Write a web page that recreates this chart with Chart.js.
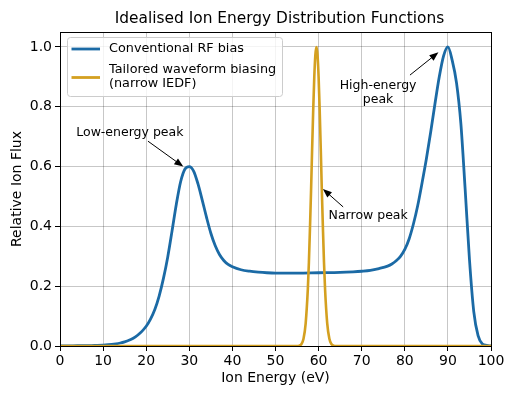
<!DOCTYPE html>
<html>
<head>
<meta charset="utf-8">
<script src="https://cdn.jsdelivr.net/npm/chart.js@4.4.1/dist/chart.umd.min.js"></script>
<style>
  html, body { margin: 0; padding: 0; background: #fff; }
  #wrap { width: 512px; height: 394px; }
</style>
</head>
<body>
<div id="wrap"><canvas id="c" width="512" height="394"></canvas></div>
<script>
// ============ DATA ============
const titleText = 'Idealised Ion Energy Distribution Functions';

// conventional RF bias: bimodal IEDF
const rfEnergy = [0, 2, 4, 6, 8, 10, 12, 13, 14, 15, 16, 17, 18, 19, 20, 21, 22, 23, 24, 25, 26, 27, 28, 29, 30,
  31, 32, 33, 34, 35, 36, 37, 38, 39, 40, 42, 44, 46, 48, 50, 55, 60, 65, 68, 70, 72, 74, 76, 77, 78, 79, 80,
  81, 82, 83, 84, 85, 86, 87, 88, 89, 90, 91, 92, 93, 94, 95, 96, 97, 98, 99, 100];
const rfFlux = [0.000, 0.000, 0.001, 0.001, 0.002, 0.003, 0.005, 0.007, 0.010, 0.014, 0.019, 0.026, 0.036, 0.049, 0.066,
  0.090, 0.122, 0.167, 0.226, 0.298, 0.385, 0.475, 0.550, 0.592, 0.600,
  0.585, 0.543, 0.488, 0.430, 0.377, 0.336, 0.306, 0.286, 0.273, 0.265, 0.255, 0.250, 0.247, 0.245, 0.244,
  0.244, 0.245, 0.246, 0.248, 0.250, 0.253, 0.259, 0.267, 0.274, 0.285, 0.300, 0.323,
  0.358, 0.408, 0.470, 0.545, 0.625, 0.715, 0.810, 0.900, 0.970, 1.000, 0.955, 0.880, 0.745, 0.525, 0.290,
  0.115, 0.035, 0.007, 0.002, 0.000];

// tailored waveform: single narrow peak near 60 eV
const twEnergy = [0, 55, 55.5, 56, 56.5, 57, 57.5, 57.75, 58, 58.25, 58.5, 58.75, 59, 59.25, 59.5, 59.75,
  60, 60.25, 60.5, 60.75, 61, 61.25, 61.5, 62, 62.5, 63, 63.5, 64, 100];
const twFlux = [0, 0, 0.001, 0.006, 0.024, 0.076, 0.190, 0.280, 0.395, 0.520, 0.660, 0.790, 0.900, 0.974, 1.000, 0.974,
  0.900, 0.790, 0.660, 0.520, 0.395, 0.280, 0.190, 0.076, 0.024, 0.006, 0.001, 0, 0];

const energyTicks = [0, 10, 20, 30, 40, 50, 60, 70, 80, 90, 100];
const fluxTicks = [0, 0.2, 0.4, 0.6, 0.8, 1.0];

// callouts: text centre, arrow tail, arrow head (data units)
const notes = [
  { text: ['Low-energy peak'], at: [16.2, 0.712], from: [20.4, 0.685], to: [28.6, 0.600] },
  { text: ['High-energy', 'peak'], at: [73.8, 0.846], from: [81.2, 0.906], to: [87.8, 0.982] },
  { text: ['Narrow peak'], at: [71.5, 0.435], from: [65.7, 0.465], to: [61.0, 0.525] },
];

// ============ STYLE ============
const FONT = 'DejaVu Sans';
const BLUE = '#1b6aa5';
const GOLD = '#d4a020';

const pts = (xs, ys) => xs.map((x, i) => ({ x, y: ys[i] }));

// ============ PLUGINS ============
const frame = {
  id: 'frame',
  afterDatasetsDraw(chart) {
    const { ctx, chartArea: a } = chart;
    ctx.save();
    ctx.strokeStyle = '#000';
    ctx.lineWidth = 1;
    ctx.strokeRect(Math.round(a.left) + 0.5, Math.round(a.top) + 0.5, Math.round(a.right - a.left), Math.round(a.bottom - a.top));
    ctx.restore();
  }
};

const callouts = {
  id: 'callouts',
  afterDatasetsDraw(chart) {
    const { ctx, scales: { x, y } } = chart;
    ctx.save();
    ctx.font = `12.5px "${FONT}"`;
    ctx.fillStyle = '#000';
    ctx.strokeStyle = '#000';
    ctx.textAlign = 'center';
    ctx.textBaseline = 'middle';
    notes.forEach(n => {
      const tx = x.getPixelForValue(n.at[0]), ty = y.getPixelForValue(n.at[1]);
      const lh = 14;
      n.text.forEach((t, i) => ctx.fillText(t, tx, ty + (i - (n.text.length - 1) / 2) * lh));
      const x0 = x.getPixelForValue(n.from[0]), y0 = y.getPixelForValue(n.from[1]);
      const x1 = x.getPixelForValue(n.to[0]), y1 = y.getPixelForValue(n.to[1]);
      const ang = Math.atan2(y1 - y0, x1 - x0);
      const hl = 9, hw = 3.5;
      ctx.lineWidth = 1;
      ctx.beginPath();
      ctx.moveTo(x0, y0);
      ctx.lineTo(x1 - Math.cos(ang) * hl * 0.8, y1 - Math.sin(ang) * hl * 0.8);
      ctx.stroke();
      ctx.beginPath();
      ctx.moveTo(x1, y1);
      ctx.lineTo(x1 - Math.cos(ang) * hl - Math.sin(ang) * hw, y1 - Math.sin(ang) * hl + Math.cos(ang) * hw);
      ctx.lineTo(x1 - Math.cos(ang) * hl + Math.sin(ang) * hw, y1 - Math.sin(ang) * hl - Math.cos(ang) * hw);
      ctx.closePath();
      ctx.fill();
    });
    ctx.restore();
  }
};

const legendBox = {
  id: 'legendBox',
  afterDraw(chart) {
    const { ctx, chartArea: a } = chart;
    const bx = a.left + 7.5, by = a.top + 5.5, bw = 215, bh = 59, r = 3;
    ctx.save();
    ctx.beginPath();
    ctx.roundRect(bx, by, bw, bh, r);
    ctx.fillStyle = 'rgba(255,255,255,0.8)';
    ctx.fill();
    ctx.strokeStyle = '#cccccc';
    ctx.lineWidth = 1;
    ctx.stroke();
    ctx.font = `12.8px "${FONT}"`;
    ctx.fillStyle = '#000';
    ctx.textAlign = 'left';
    ctx.textBaseline = 'middle';
    const rows = [a.top + 17, a.top + 44.5];
    chart.data.datasets.forEach((ds, i) => {
      const lines = ds.label.split('\n');
      const cy = rows[i];
      ctx.strokeStyle = ds.borderColor;
      ctx.lineWidth = 2.8;
      ctx.beginPath();
      ctx.moveTo(bx + 4, cy + (lines.length > 1 ? 1 : 0));
      ctx.lineTo(bx + 32.5, cy + (lines.length > 1 ? 1 : 0));
      ctx.stroke();
      lines.forEach((t, j) => ctx.fillText(t, bx + 41.5, cy + (j - (lines.length - 1) / 2) * 14));
    });
    ctx.restore();
  }
};

const chartTitle = {
  id: 'chartTitle',
  afterDraw(chart) {
    const { ctx, chartArea: a } = chart;
    ctx.save();
    ctx.font = `15.4px "${FONT}"`;
    ctx.fillStyle = '#000';
    ctx.textAlign = 'center';
    ctx.textBaseline = 'middle';
    ctx.fillText(titleText, (a.left + a.right) / 2 + 4, 18.5);
    ctx.restore();
  }
};

// ============ CHART ============
const tickFont = { family: FONT, size: 14 };
const gridOpts = { color: 'rgba(0,0,0,0.22)', lineWidth: 1, tickColor: '#000', tickLength: 5 };

new Chart(document.getElementById('c'), {
  type: 'line',
  data: {
    datasets: [
      { label: 'Conventional RF bias', data: pts(rfEnergy, rfFlux), borderColor: BLUE, borderWidth: 2.8,
        pointRadius: 0, cubicInterpolationMode: 'monotone', fill: false, order: 2 },
      { label: 'Tailored waveform biasing\n(narrow IEDF)', data: pts(twEnergy, twFlux), borderColor: GOLD, borderWidth: 2.6,
        pointRadius: 0, cubicInterpolationMode: 'monotone', fill: false, order: 1 },
    ]
  },
  options: {
    responsive: false,
    animation: false,
    devicePixelRatio: 1,
    layout: { padding: { top: 32, right: 21, left: 0, bottom: 0 } },
    plugins: { legend: { display: false }, title: { display: false }, tooltip: { enabled: false } },
    scales: {
      x: {
        type: 'linear', min: 0, max: 100,
        afterBuildTicks: s => { s.ticks = energyTicks.map(v => ({ value: v })); },
        ticks: { font: tickFont, color: '#000', padding: 2, maxRotation: 0 },
        grid: gridOpts,
        border: { color: '#000', width: 1 },
        title: { display: true, text: 'Ion Energy (eV)', font: tickFont, color: '#000', padding: { top: 0, bottom: 7.5 } },
        afterFit: s => { s.height = 48; }
      },
      y: {
        type: 'linear', min: 0, max: 1.05,
        afterBuildTicks: s => { s.ticks = fluxTicks.map(v => ({ value: v })); },
        ticks: { font: tickFont, color: '#000', padding: 3, callback: v => v.toFixed(1) },
        grid: gridOpts,
        border: { color: '#000', width: 1 },
        title: { display: true, text: 'Relative Ion Flux', font: tickFont, color: '#000', padding: { top: 8.5, bottom: 0 } },
        afterFit: s => { s.width = 60; }
      }
    }
  },
  plugins: [frame, callouts, legendBox, chartTitle]
});
</script>
</body>
</html>
